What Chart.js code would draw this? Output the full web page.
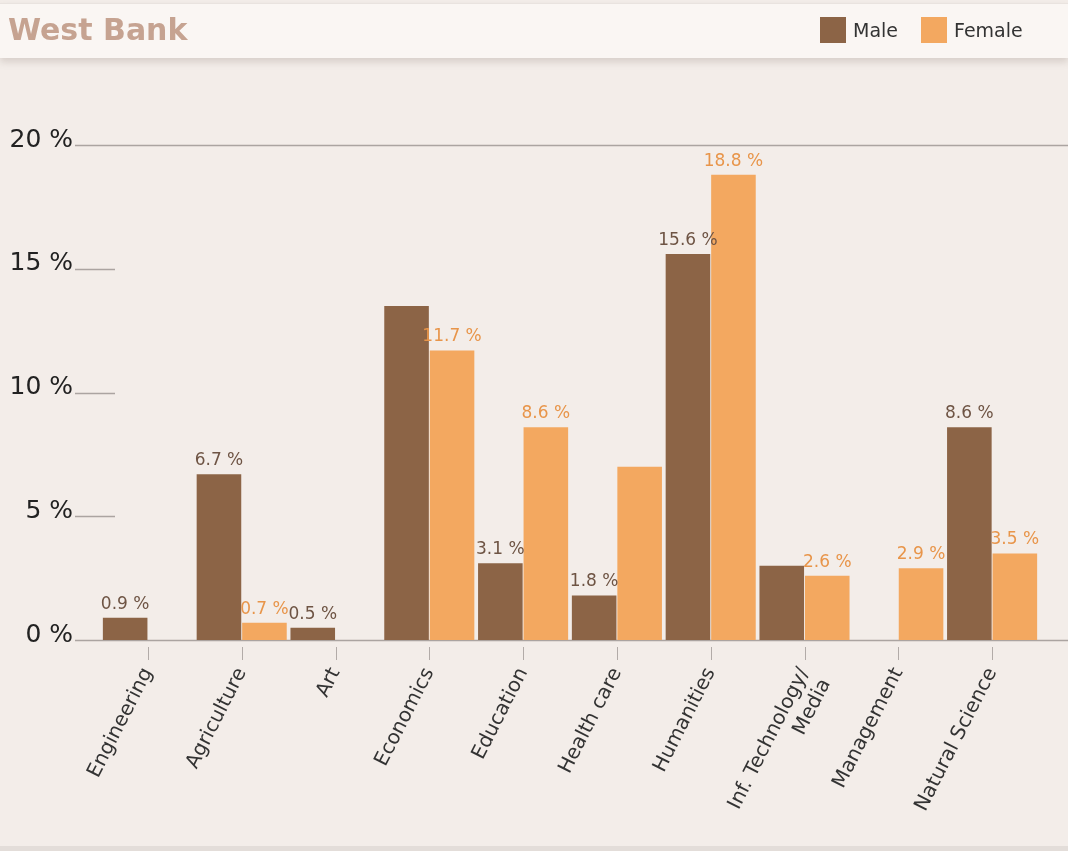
<!DOCTYPE html>
<html>
<head>
<meta charset="utf-8">
<script src="https://cdn.jsdelivr.net/npm/chart.js@4.4.1/dist/chart.umd.min.js"></script>
<style>
    html, body {
        margin: 0;
        padding: 0;
        background: #f3ede9;
        font-family: "DejaVu Sans", Verdana, sans-serif;
    }
    #wrap {
        position: relative;
        width: 1068px;
        height: 851px;
        overflow: hidden;
    }
    #header {
        position: absolute;
        left: 0;
        top: 3px;
        width: 1068px;
        height: 54px;
        background: #faf6f3;
        border-top: 1px solid #e9e3df;
        box-shadow: 0 4px 7px rgba(120, 100, 90, 0.22);
        z-index: 2;
    }
    #title {
        position: absolute;
        left: 8px;
        top: 8px;
        font-size: 30px;
        font-weight: bold;
        color: #c6a391;
    }
    #legend {
        position: absolute;
        left: 820px;
        top: 13px;
        display: flex;
        align-items: center;
        font-size: 19px;
        color: #333;
    }
    #legend .item {
        display: flex;
        align-items: center;
        margin-right: 23px;
    }
    #legend .box {
        width: 26px;
        height: 26px;
        margin-right: 7px;
    }
    #footer {
        position: absolute;
        left: 0;
        top: 846px;
        width: 1068px;
        height: 5px;
        background: #e3ddd9;
    }
    #chart {
        position: absolute;
        left: 0;
        top: 0;
    }
</style>
</head>
<body>
<div id="wrap">
    <canvas id="chart" width="1068" height="851"></canvas>
    <div id="header">
        <div id="title">West Bank</div>
        <div id="legend"></div>
    </div>
    <div id="footer"></div>
</div>
<script>
const subjects = [
    'Engineering', 'Agriculture', 'Art', 'Economics', 'Education',
    'Health care', 'Humanities', ['Inf. Technology/', 'Media'], 'Management', 'Natural Science'
];

const maleShare   = [0.9, 6.7, 0.5, 13.5, 3.1, 1.8, 15.6, 3.0, 0, 8.6];
const femaleShare = [0, 0.7, 0, 11.7, 8.6, 7.0, 18.8, 2.6, 2.9, 3.5];

// values printed above the bars (null = no label)
const maleLabels   = [0.9, 6.7, 0.5, null, 3.1, 1.8, 15.6, null, null, 8.6];
const femaleLabels = [null, 0.7, null, 11.7, 8.6, null, 18.8, 2.6, 2.9, 3.5];

const yTicks = [0, 5, 10, 15, 20];

const MALE_COLOR = '#8c6446';
const FEMALE_COLOR = '#f3a860';
const LINE_COLOR = '#aba4a1';

// long lines at 0 and 20, short stubs for the rest
const yGuides = {
    id: 'yGuides',
    beforeDatasetsDraw(chart) {
        let ctx = chart.ctx;
        let y = chart.scales.y;
        ctx.save();
        ctx.strokeStyle = LINE_COLOR;
        ctx.lineWidth = 1.5;
        yTicks.forEach(function (v) {
            let py = Math.round(y.getPixelForValue(v)) + 0.5;
            let x1 = (v === 0 || v === 20) ? chart.width : 115;
            ctx.beginPath();
            ctx.moveTo(75, py);
            ctx.lineTo(x1, py);
            ctx.stroke();
        });

        // tick marks under each category
        let x = chart.scales.x;
        let bottom = chart.chartArea.bottom;
        ctx.lineWidth = 1;
        ctx.strokeStyle = '#b2aba8';
        for (let i = 0; i < subjects.length; i++) {
            let px = Math.round(x.getPixelForTick(i)) + 0.5;
            ctx.beginPath();
            ctx.moveTo(px, bottom + 7);
            ctx.lineTo(px, bottom + 20);
            ctx.stroke();
        }
        ctx.restore();
    }
};

const valueLabels = {
    id: 'valueLabels',
    afterDatasetsDraw(chart) {
        let ctx = chart.ctx;
        ctx.save();
        ctx.font = '17px "DejaVu Sans", Verdana, sans-serif';
        ctx.textAlign = 'center';
        ctx.textBaseline = 'bottom';
        chart.data.datasets.forEach(function (ds, di) {
            let meta = chart.getDatasetMeta(di);
            meta.data.forEach(function (bar, i) {
                let v = ds.valueLabels[i];
                if (v === null) return;
                ctx.fillStyle = ds.labelColor;
                ctx.fillText(v.toFixed(1) + ' %', bar.x, bar.y - 5);
            });
        });
        ctx.restore();
    }
};

let ctxShare = document.getElementById('chart').getContext('2d');
let shareChart = new Chart(ctxShare, {
    type: 'bar',
    data: {
        labels: subjects,
        datasets: [{
            label: 'Male',
            data: maleShare,
            valueLabels: maleLabels,
            backgroundColor: MALE_COLOR,
            labelColor: '#6e5444',
            categoryPercentage: 0.97,
            barPercentage: 0.98
        }, {
            label: 'Female',
            data: femaleShare,
            valueLabels: femaleLabels,
            backgroundColor: FEMALE_COLOR,
            labelColor: '#e8954a',
            categoryPercentage: 0.97,
            barPercentage: 0.98
        }]
    },
    options: {
        responsive: false,
        animation: false,
        layout: {
            padding: {top: 145, right: 29, left: 0, bottom: 0}
        },
        plugins: {
            legend: {display: false},
            tooltip: {enabled: false}
        },
        scales: {
            x: {
                offset: true,
                grid: {display: false, drawTicks: false},
                border: {display: false},
                ticks: {
                    autoSkip: false,
                    minRotation: 63,
                    maxRotation: 63,
                    padding: 24,
                    color: '#333',
                    font: {family: '"DejaVu Sans", Verdana, sans-serif', size: 20}
                },
                afterFit: function (scale) {
                    scale.height = 211;
                }
            },
            y: {
                min: 0,
                max: 20,
                grid: {display: false, drawTicks: false},
                border: {display: false},
                ticks: {
                    stepSize: 5,
                    padding: 28,
                    labelOffset: -5,
                    color: '#222',
                    font: {family: '"DejaVu Sans", Verdana, sans-serif', size: 25},
                    callback: function (v) {
                        return v + ' %';
                    }
                },
                afterFit: function (scale) {
                    scale.width = 101;
                }
            }
        }
    },
    plugins: [yGuides, valueLabels]
});

// html legend built from the datasets
let legendEl = document.getElementById('legend');
shareChart.data.datasets.forEach(function (ds) {
    let item = document.createElement('div');
    item.className = 'item';
    let box = document.createElement('div');
    box.className = 'box';
    box.style.background = ds.backgroundColor;
    let txt = document.createElement('span');
    txt.textContent = ds.label;
    item.appendChild(box);
    item.appendChild(txt);
    legendEl.appendChild(item);
});
</script>
</body>
</html>
